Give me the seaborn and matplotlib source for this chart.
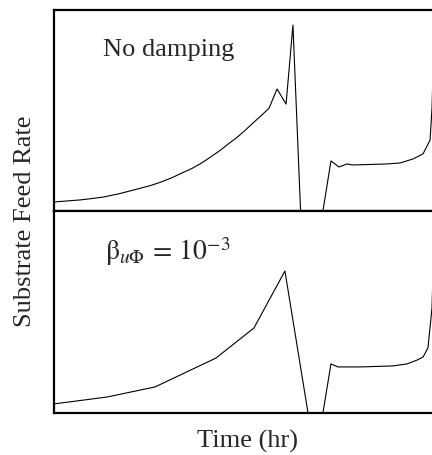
import matplotlib
matplotlib.use("Agg")
import matplotlib.pyplot as plt
import seaborn as sns
import pandas as pd

# ---- data (time in hr, feed rate in arbitrary units) ----
time_top = [0.00, 0.68, 1.36, 1.99, 2.62, 3.46, 4.35, 5.03, 5.60, 6.18, 6.81,
            7.23, 7.64, 7.96, 8.32, 8.59, 8.85, 9.21, 9.58, 9.99, 10.42,
            10.89, 11.26, 11.68, 12.15, 12.51, 12.91, 14.08, 14.50, 14.92,
            15.34, 15.65, 17.43, 18.12, 18.80, 19.32, 19.69, 19.79, 20.00]
feed_top = [0.045, 0.050, 0.055, 0.062, 0.070, 0.087, 0.109, 0.126, 0.144,
            0.166, 0.194, 0.212, 0.234, 0.253, 0.277, 0.294, 0.313, 0.340,
            0.366, 0.400, 0.438, 0.478, 0.512, 0.607, 0.532, 0.925, 0.0, 0.0,
            0.249, 0.219, 0.234, 0.229, 0.234, 0.239, 0.259, 0.284, 0.353,
            0.512, 1.2]

time_bot = [0.00, 2.77, 5.29, 8.48, 10.47, 12.09, 13.30, 14.08, 14.50, 14.87,
            16.02, 17.75, 18.48, 19.01, 19.32, 19.58, 19.79, 20.00]
feed_bot = [0.045, 0.079, 0.129, 0.272, 0.421, 0.703, 0.0, 0.0, 0.243, 0.228,
            0.228, 0.233, 0.243, 0.262, 0.277, 0.322, 0.520, 1.2]

label_top = "No damping"
label_bot = r"$\mathrm{\beta}_{u\Phi}\,=\,10^{-3}$"
xlabel = "Time (hr)"
ylabel = "Substrate Feed Rate"

sns.set_style("white")
plt.rcParams["font.family"] = ["Liberation Serif", "DejaVu Serif"]
plt.rcParams["mathtext.fontset"] = "stix"

W, H = 432, 455
fig = plt.figure(figsize=(W / 100, H / 100), dpi=100)

left = 54 / W
right = 436 / W
ax_top = fig.add_axes([left, 1 - 211 / H, right - left, (211 - 10) / H])
ax_bot = fig.add_axes([left, 1 - 413 / H, right - left, (413 - 211) / H])

df_top = pd.DataFrame({"t": time_top, "f": feed_top})
df_bot = pd.DataFrame({"t": time_bot, "f": feed_bot})

sns.lineplot(data=df_top, x="t", y="f", ax=ax_top, color="black",
             linewidth=0.8, sort=False, estimator=None)
sns.lineplot(data=df_bot, x="t", y="f", ax=ax_bot, color="black",
             linewidth=0.8, sort=False, estimator=None)

for ax in (ax_top, ax_bot):
    ax.set_xlim(0, 20)
    ax.set_ylim(0, 1)
    ax.set_xticks([])
    ax.set_yticks([])
    ax.set_xlabel("")
    ax.set_ylabel("")
    for s in ax.spines.values():
        s.set_linewidth(1.6)
        s.set_color("black")

ax_top.text((103 - 54) / 382, (211 - 56) / 201, label_top,
            transform=ax_top.transAxes, fontsize=19, ha="left", va="baseline")
ax_bot.text((105 - 54) / 382, (413 - 260) / 202, label_bot,
            transform=ax_bot.transAxes, fontsize=20, ha="left", va="baseline")

fig.text(247 / W, 1 - 448 / H, xlabel, fontsize=19, ha="center", va="baseline")
fig.text(25 / W, 1 - 221 / H, ylabel, fontsize=19, ha="center", va="center",
         rotation=90)

fig.savefig("out.png", dpi=100)
